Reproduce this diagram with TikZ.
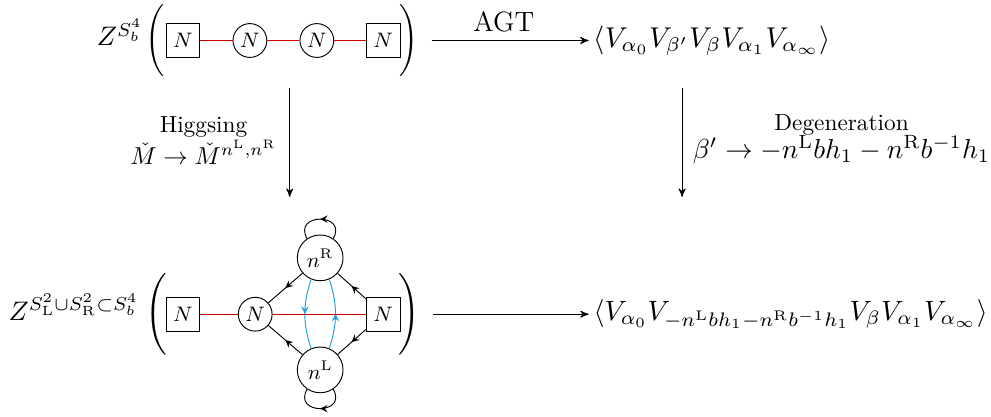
\documentclass[tikz,border=0pt]{standalone}
\usepackage{amsmath,amssymb,amsfonts}
\usepackage{graphicx}
\usetikzlibrary{arrows,positioning,calc,decorations.markings}

\definecolor{quivred}{RGB}{215,0,0}
\definecolor{quivblue}{RGB}{25,160,225}

\newcommand{\tallopen}{$\left(\vcenter{\hbox{\rule{0pt}{29pt}}}\right.$}
\newcommand{\tallclose}{$\left.\vcenter{\hbox{\rule{0pt}{29pt}}}\right)$}

\tikzset{
  gauge/.style={draw, circle, minimum size=0.51cm, inner sep=0pt, font=\small},
  flavor/.style={draw, rectangle, minimum size=0.51cm, inner sep=0pt, font=\small},
  defect/.style={draw, circle, minimum size=0.69cm, inner sep=0pt, font=\small},
  bifund/.style={color=quivred, line width=0.6pt},
  paren/.style={inner sep=0pt, scale=#1, transform shape},
  bigmath/.style={scale=#1, transform shape},
  zmath/.style={scale=1.15, transform shape},
  midarrow/.style={postaction={decorate}, decoration={markings, mark=at position 0.5 with {\arrow{stealth}}}}
}

\begin{document}
\begin{tikzpicture}[>=stealth', every text node part/.style={align=center}]
    \useasboundingbox (0,0) rectangle (14.95,-6.29);

    % top row: linear quiver on S^4_b
    \node [zmath, anchor=base east] (ztop) at (2.30,-0.69) {$Z^{S^4_b}$};
    \node [paren=1.03] (lpt) at (2.36,-0.611) {\tallopen};
    \node [flavor] (f1) at (2.76,-0.611) {$N$};
    \node [gauge] (g1) at (3.77,-0.611) {$N$};
    \node [gauge] (g2) at (4.78,-0.611) {$N$};
    \node [flavor] (f2) at (5.78,-0.611) {$N$};
    \node [paren=1.03] (rpt) at (6.15,-0.611) {\tallclose};

    \node [bigmath=1.23, anchor=west, inner sep=1.6pt] (agt) at (8.88,-0.611) {$\langle V_{\alpha_0}V_{\beta'}V_{\beta}V_{\alpha_1}V_{\alpha_\infty}\rangle$};
    \draw [->, shorten <=0.19cm] (rpt) -- node[above, font=\large] {AGT} (agt);

    % vertical maps
    \coordinate (hs) at (4.37,-1.33);
    \coordinate (he) at (4.37,-2.97);
    \draw [->] (hs) -- (he);
    \node [anchor=east] (higgs) at (4.30,-2.12) {Higgsing\\ \scalebox{1.05}{$\check{M}\to\check{M}^{n^{\mathrm{L}},n^{\mathrm{R}}}$}};

    \coordinate (ds) at (10.29,-1.33);
    \coordinate (de) at (10.29,-2.97);
    \draw [->] (ds) -- (de);
    \node [anchor=west] (degen) at (10.33,-2.10) {Degeneration\\ \scalebox{1.18}{$\beta'\to -n^{\mathrm{L}}bh_1-n^{\mathrm{R}}b^{-1}h_1$}};

    % bottom row: quiver with surface defects
    \node [zmath, anchor=base east] (zbot) at (2.24,-4.83) {$Z^{S^2_{\mathrm{L}}\cup S^2_{\mathrm{R}}\subset S^4_b}$};
    \node [paren=1.17] (lpb) at (2.38,-4.74) {\tallopen};
    \node [flavor] (f3) at (2.76,-4.74) {$N$};
    \node [gauge] (g3) at (3.85,-4.74) {$N$};
    \node [defect] (nR) at (4.83,-3.89) {$n^{\mathrm{R}}$};
    \node [defect] (nL) at (4.83,-5.58) {$n^{\mathrm{L}}$};
    \node [flavor] (f4) at (5.78,-4.74) {$N$};
    \node [paren=1.17] (rpb) at (6.15,-4.74) {\tallclose};

    \draw [midarrow] (f4) -- (nR);
    \draw [midarrow] (nR) -- (g3);
    \draw [midarrow] (f4) -- (nL);
    \draw [midarrow] (nL) -- (g3);
    \draw [midarrow, quivblue] (nR.-113) to[bend right=18] (nL.113);
    \draw [midarrow, quivblue] (nL.67) to[bend right=18] (nR.-67);
    \draw [midarrow] (nR.56) .. controls +(60:0.45) and +(120:0.45) .. (nR.124);
    \draw [midarrow] (nL.-56) .. controls +(-60:0.45) and +(-120:0.45) .. (nL.-124);

    \node [bigmath=1.20, anchor=west, inner sep=1.6pt] (degcor) at (8.88,-4.74) {$\langle V_{\alpha_0}V_{-n^{\mathrm{L}}bh_1-n^{\mathrm{R}}b^{-1}h_1}V_{\beta}V_{\alpha_1}V_{\alpha_\infty}\rangle$};
    \draw [->, shorten <=0.19cm] (rpb) -- (degcor);

    % red bifundamental lines
    \foreach \a/\b in {f3/g3, g3/f4, f1/g1, g1/g2, g2/f2}
        \draw [bifund] (\a) -- (\b);
\end{tikzpicture}
\end{document}
